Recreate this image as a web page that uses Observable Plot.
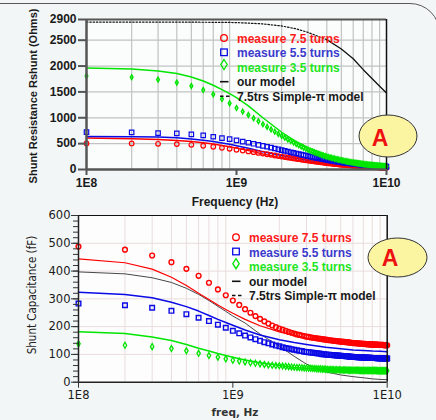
<!DOCTYPE html>
<html><head><meta charset="utf-8">
<script src="https://cdn.jsdelivr.net/npm/d3@7"></script>
<script src="https://cdn.jsdelivr.net/npm/@observablehq/plot@0.6"></script>
<style>
html,body{margin:0;padding:0;background:#f2f6f6;}
#wrap{position:relative;width:436px;height:420px;overflow:hidden;background:#f2f6f6;}
#frame{position:absolute;left:-6px;top:3px;width:446px;height:480px;border:1.5px solid #5a5a5a;border-radius:0 30px 0 0;box-sizing:border-box;}
#top{position:absolute;left:0;top:0;}
#bot{position:absolute;left:0;top:200px;width:436px;height:220px;}
#over{position:absolute;left:0;top:0;}
</style></head><body><div id="wrap"><div id="frame"></div><div id="top"></div><div id="bot"></div></div>
<script>
// ---------- data ----------
const fMeasGHz = [
0.1,0.2,0.3,0.4,0.5,0.6,0.7,0.8,0.9,1.0,
1.1,1.2,1.3,1.4,1.5,1.6,1.7,1.8,1.9,2.0,
2.1,2.2,2.3,2.4,2.5,2.6,2.7,2.8,2.9,3.0,
3.1,3.2,3.3,3.4,3.5,3.6,3.7,3.8,3.9,4.0,
4.1,4.2,4.3,4.4,4.5,4.6,4.7,4.8,4.9,5.0,
5.1,5.2,5.3,5.4,5.5,5.6,5.7,5.8,5.9,6.0,
6.1,6.2,6.3,6.4,6.5,6.6,6.7,6.8,6.9,7.0,
7.1,7.2,7.3,7.4,7.5,7.6,7.7,7.8,7.9,8.0,
8.1,8.2,8.3,8.4,8.5,8.6,8.7,8.8,8.9,9.0,
9.1,9.2,9.3,9.4,9.5,9.6,9.7,9.8,9.9,10.0];

// Shunt resistance, measured (Ohms)
const rMeas75 = [
504,504,497,491,478,459,440,420,401,382,
366,350,335,321,308,295,283,271,260,250,
241,232,223,214,206,199,192,185,178,172,
167,161,156,151,146,142,137,133,128,124,
121,117,114,111,108,105,102,99,96,94,
92,90,88,86,84,82,80,78,76,74,
72,71,69,68,66,65,63,62,60,59,
58,57,56,55,54,53,52,51,50,48,
48,47,46,45,44,44,43,42,41,40,
39,39,38,37,37,36,35,35,34,33];
const rMeas55 = [
723,717,704,698,678,659,633,607,587,562,
540,518,497,477,458,440,423,406,390,375,
361,347,334,322,310,299,288,278,268,259,
250,242,234,226,219,212,205,199,193,187,
181,176,171,166,161,157,153,149,145,141,
137,134,131,128,125,122,119,116,114,111,
109,106,104,102,100,98,96,94,92,90,
88,87,85,84,82,81,79,78,77,75,
74,73,72,71,70,69,68,67,66,65,
64,63,62,61,60,59,58,57,56,55];
const rMeas35 = [
1808,1783,1738,1680,1615,1537,1453,1362,1279,1188,
1120,1055,992,932,876,824,775,730,688,650,
615,582,551,521,493,468,445,422,401,381,
363,347,332,318,305,292,280,269,259,250,
241,233,225,217,210,203,196,190,184,178,
173,168,163,158,154,150,146,142,138,134,
131,128,125,122,119,116,113,110,107,104,
102,100,98,96,94,92,90,88,86,84,
83,81,80,78,77,75,74,72,71,70,
69,68,66,65,64,63,62,61,60,58];

// Shunt capacitance, measured (fF)
const cMeas75 = [
488,477,456,432,408,383,358,334,313,294,
278,263,250,238,228,219,211,204,198,193,
189,185,181,178,175,172,170,168,166,164,
163,161,160,159,158,157,156,155,154,153,
152,151,151,150,149,149,148,147,147,146,
146,145,145,144,144,143,143,142,142,141,
141,141,140,140,140,139,139,139,138,138,
138,138,137,137,137,137,136,136,136,136,
136,135,135,135,135,135,135,134,134,134,
134,134,134,134,133,133,133,133,133,133];
const cMeas55 = [
283,277,268,257,245,232,220,207,196,185,
176,168,161,155,149,144,140,136,132,129,
126,123,121,119,117,115,113,112,110,109,
108,107,106,105,104,103,102,101,101,100,
99,99,98,98,97,97,96,96,95,95,
94,94,94,93,93,93,92,92,92,91,
91,91,91,90,90,90,90,89,89,89,
89,89,88,88,88,88,88,88,87,87,
87,87,87,87,87,86,86,86,86,86,
86,86,86,86,86,85,85,85,85,85];
const cMeas35 = [
138,133,128,121,113,104,96,90,84,79,
76,73,70,68,66,64,62,61,60,59,
58,57,56,55,54,53,53,52,51,51,
50,50,49,49,48,48,48,47,47,47,
46,46,46,46,45,45,45,45,45,44,
44,44,44,44,44,43,43,43,43,43,
43,43,43,43,43,42,42,42,42,42,
42,42,42,42,42,42,42,42,42,42,
42,42,42,42,42,41,41,41,41,41,
41,41,41,41,41,41,41,41,41,41];

// Model curves
const fModelGHz = [0.1,0.2,0.3,0.4,0.5,0.6,0.7,0.8,0.9,1,1.2,1.5,2,2.5,3,4,5,6,7,8,9,10];
const rModel75 = [607,594,581,562,543,517,491,465,440,413,365,300,225,175,140,95,68,52,41,33,27,23];
const rModel55 = [640,633,626,614,590,565,540,513,487,460,410,345,270,215,175,120,88,68,54,44,37,32];
const rModel35 = [1963,1944,1905,1854,1789,1711,1628,1544,1467,1390,1230,1000,720,540,420,280,200,150,118,96,80,68];
const rSimplePi = [2850,2850,2850,2850,2848,2847,2846,2845,2843,2840,2830,2815,2775,2720,2650,2510,2330,2140,1930,1760,1610,1480];
const cModel75 = [444,430,407,378,348,320,298,278,262,248,226,203,181,168,159,148,142,138,135,133,132,131];
const cModel55 = [324,316,304,288,272,256,240,226,215,205,188,170,153,143,136,126,120,116,114,112,111,110];
const cModel35 = [182,175,163,150,136,122,112,103,96,90,80,70,60,53,49,45,43,42,41,41,40,40];
const cSimplePi = [397,390,376,359,338,316,294,273,255,238,213,173,130,93,65,37,26,20,16,12,10,9];

// axes
const xTicks = [1e8, 1e9, 1e10];
const xTickLabels = ["1E8", "1E9", "1E10"];
const xMinor = [2e8,3e8,4e8,5e8,6e8,7e8,8e8,9e8,2e9,3e9,4e9,5e9,6e9,7e9,8e9,9e9];
const rTicks = [0,500,1000,1500,2000,2500,2900];
const rGrid = [500,1000,1500,2000,2500];
const cTicks = [0,100,200,300,400,500,600];
const cMinor = [0,20,40,60,80,100,120,140,160,180,200,220,240,260,280,300,320,340,360,380,400,420,440,460,480,500,520,540,560,580,600];
const cGrid = [100,200,300,400,500];

const legendLabels = ["measure 7.5 turns","measure 5.5 turns","measure 3.5 turns","our model","7.5trs Simple-\u03c0 model"];
const RED = "#ff0000", BLUE = "#0a0ae6", GREEN = "#00e600";

// ---------- tables ----------
const meas = fMeasGHz.map((f,i)=>({f:f*1e9, r75:rMeas75[i], r55:rMeas55[i], r35:rMeas35[i], c75:cMeas75[i], c55:cMeas55[i], c35:cMeas35[i]}));
const model = fModelGHz.map((f,i)=>({f:f*1e9, r75:rModel75[i], r55:rModel55[i], r35:rModel35[i], rpi:rSimplePi[i], c75:cModel75[i], c55:cModel55[i], c35:cModel35[i], cpi:cSimplePi[i]}));
const fmt = d => xTickLabels[xTicks.indexOf(d)];

// ---------- top chart ----------
const topPlot = Plot.plot({
  width: 436, height: 210,
  marginTop: 19, marginRight: 50, marginBottom: 41, marginLeft: 86,
  style: {background:"transparent", overflow:"visible", fontFamily:"'Liberation Sans', Arial, sans-serif", fontSize:"12px", fontWeight:"bold", color:"#1a1a1a"},
  x: {type:"log", domain:[1e8,1e10]},
  y: {domain:[0,2900]},
  marks: [
    Plot.frame({fill:"#fbfdfd", stroke:null}),
    Plot.gridX({ticks:xMinor, stroke:"#c2c2c2", strokeOpacity:1, strokeWidth:1.2}),
    Plot.gridY({ticks:rGrid, stroke:"#c2c2c2", strokeOpacity:1, strokeWidth:1.2}),
    Plot.line(model, {x:"f", y:"r75", stroke:RED, strokeWidth:1.5}),
    Plot.line(model, {x:"f", y:"r55", stroke:BLUE, strokeWidth:1.5}),
    Plot.line(model, {x:"f", y:"r35", stroke:GREEN, strokeWidth:1.5}),
    Plot.line(model.filter(d=>d.f<=4e9), {x:"f", y:"rpi", stroke:"#111", strokeWidth:1.2, strokeDasharray:"1.5,1.8"}),
    Plot.line(model.filter(d=>d.f>=4e9), {x:"f", y:"rpi", stroke:"#111", strokeWidth:1.3}),
    Plot.dot(meas, {x:"f", y:"r75", symbol:"circle", r:2.3, stroke:RED, strokeWidth:1.2, fill:"none"}),
    Plot.dot(meas, {x:"f", y:"r55", symbol:"square", r:2.5, stroke:BLUE, strokeWidth:1.2, fill:"none"}),
    Plot.dot(meas, {x:"f", y:"r35", symbol:"diamond", r:1.4, stroke:GREEN, strokeWidth:1.5, fill:"none"}),
    Plot.ruleY([2900], {stroke:"#555", strokeWidth:2}),
    Plot.ruleX([1e10], {stroke:"#111", strokeWidth:1.5}),
    Plot.axisX({ticks:xTicks, tickFormat:fmt, tickSize:6, tickPadding:3, label:null, stroke:"#555", strokeWidth:2}),
    Plot.axisY({ticks:rTicks, tickFormat:d=>String(d), tickSize:8, tickPadding:2, label:null, stroke:"#555", strokeWidth:2}),
    Plot.ruleX([1e8], {stroke:"#555", strokeWidth:2.5}),
    Plot.ruleY([0], {stroke:"#555", strokeWidth:2.5})
  ]
});
document.getElementById("top").appendChild(topPlot);

// ---------- bottom chart ----------
const botPlot = Plot.plot({
  width: 436, height: 220,
  marginTop: 15, marginRight: 49.3, marginBottom: 38.3, marginLeft: 78,
  style: {background:"transparent", overflow:"visible", fontFamily:"'DejaVu Sans', Verdana, sans-serif", fontSize:"11.5px", color:"#1a1a1a"},
  x: {type:"log", domain:[1e8,1e10]},
  y: {domain:[0,600]},
  marks: [
    Plot.frame({fill:"#fdfdfd", stroke:null}),
    Plot.gridX({ticks:xMinor, stroke:"#eadcdc", strokeOpacity:1}),
    Plot.gridY({ticks:cGrid, stroke:"#eadcdc", strokeOpacity:1}),
    Plot.line(model, {x:"f", y:"cpi", stroke:"#333", strokeWidth:0.9}),
    Plot.line(model, {x:"f", y:"c75", stroke:RED, strokeWidth:1.2}),
    Plot.line(model, {x:"f", y:"c55", stroke:BLUE, strokeWidth:1.5}),
    Plot.line(model, {x:"f", y:"c35", stroke:GREEN, strokeWidth:1.5}),
    Plot.dot(meas, {x:"f", y:"c75", symbol:"circle", r:2.4, stroke:RED, strokeWidth:1.4, fill:"none"}),
    Plot.dot(meas, {x:"f", y:"c55", symbol:"square", r:2.6, stroke:BLUE, strokeWidth:1.4, fill:"none"}),
    Plot.dot(meas, {x:"f", y:"c35", symbol:"diamond", r:1.8, stroke:GREEN, strokeWidth:1.3, fill:"none"}),
    Plot.ruleY([600], {stroke:"#111", strokeWidth:1}),
    Plot.ruleX([1e10], {stroke:"#111", strokeWidth:1.5}),
    Plot.axisY({ticks:cMinor, tickFormat:()=>"", tickSize:5, label:null, stroke:"#333"}),
    Plot.axisY({ticks:cTicks, tickFormat:d=>String(d), tickSize:7, tickPadding:1, label:null, stroke:"#333"}),
    Plot.axisX({ticks:xTicks, tickFormat:fmt, tickSize:6, tickPadding:3, label:null, stroke:"#333"}),
    Plot.ruleX([1e8], {stroke:"#222", strokeWidth:1.5}),
    Plot.ruleY([0], {stroke:"#222", strokeWidth:1.5})
  ]
});
document.getElementById("bot").appendChild(botPlot);

// ---------- overlay: titles, legends, badges ----------
function legend(x0, ys, tx){
  const s = [];
  s.push(`<circle cx="${x0}" cy="${ys[0]-0.5}" r="3.3" fill="none" stroke="${RED}" stroke-width="1.3"/>`);
  s.push(`<rect x="${x0-3.3}" y="${ys[1]-4}" width="6.6" height="6.6" fill="none" stroke="${BLUE}" stroke-width="1.3"/>`);
  s.push(`<path d="M${x0},${ys[2]-8} L${x0+3.2},${ys[2]-3} L${x0},${ys[2]+2} L${x0-3.2},${ys[2]-3} Z" fill="none" stroke="${GREEN}" stroke-width="1.3"/>`);
  s.push(`<line x1="${x0-4}" x2="${x0+4.5}" y1="${ys[3]}" y2="${ys[3]}" stroke="#111" stroke-width="1.6"/>`);
  s.push(`<line x1="${x0-4}" x2="${x0+6}" y1="${ys[4]}" y2="${ys[4]}" stroke="#111" stroke-width="1.6" stroke-dasharray="3.5,2.5"/>`);
  const cols = ["#ff1a1a","#3a3acc","#1ee61e","#1a1a1a","#1a1a1a"];
  legendLabels.forEach((t,i)=>s.push(`<text x="${tx}" y="${ys[i]}" dy="0.36em" fill="${cols[i]}">${t}</text>`));
  return s.join("");
}
function badge(cx, cy, tx, ty, rx, ry){
  return `<ellipse cx="${cx}" cy="${cy}" rx="${rx}" ry="${ry}" fill="#fbf5a2" stroke="#333" stroke-width="1"/>
  <text x="${tx}" y="${ty}" dy="0.36em" text-anchor="middle" font-size="23" fill="#ee1111">A</text>`;
}
const over = `<svg id="over" width="436" height="420" xmlns="http://www.w3.org/2000/svg" style="position:absolute;left:0;top:0;font-family:'Liberation Sans',Arial,sans-serif;font-weight:bold;font-size:12px">
 <g>${legend(224,[38.5,53,67.5,81.7,96.3],237)}</g>
 <g>${legend(236,[237.7,252.2,266.7,281.3,295.5],249)}</g>
 ${badge(388,136,380,138,29,21)}
 ${badge(397.5,257.5,390,258,29.5,19.5)}
 <text x="235" y="201.7" dy="0.36em" text-anchor="middle" fill="#1a1a1a">Frequency (Hz)</text>
 <text transform="translate(33.3,96) rotate(-90)" dy="0.36em" text-anchor="middle" font-size="11" fill="#1a1a1a">Shunt Resistance Rshunt (Ohms)</text>
 <text x="235" y="412" dy="0.36em" text-anchor="middle" font-family="'DejaVu Sans',sans-serif" font-size="10.5" fill="#333">freq, Hz</text>
 <text transform="translate(31.7,295) rotate(-90)" dy="0.36em" text-anchor="middle" font-family="'Liberation Sans Narrow','DejaVu Sans Condensed',sans-serif" font-weight="normal" font-size="11.5" fill="#222">Shunt Capacitance (fF)</text>
</svg>`;
document.getElementById("wrap").insertAdjacentHTML("beforeend", over);
</script></body></html>
